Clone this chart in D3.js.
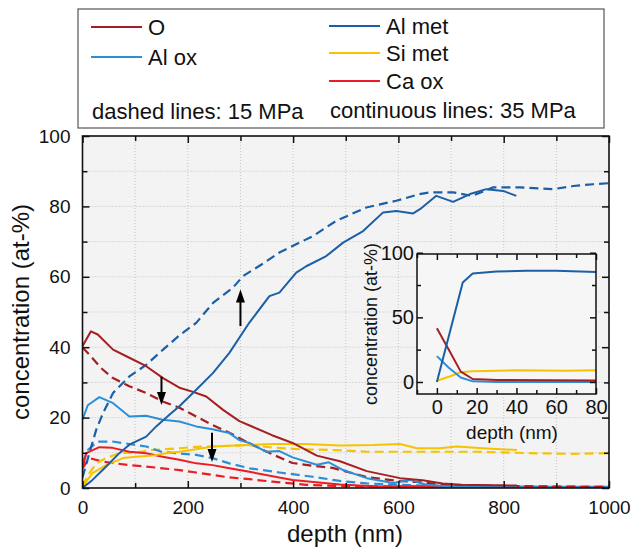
<!DOCTYPE html>
<html>
<head>
<meta charset="utf-8">
<script src="https://cdnjs.cloudflare.com/ajax/libs/d3/7.8.5/d3.min.js"></script>
<style>
  body { margin: 0; background: #fff; }
  svg text { font-family: "Liberation Sans", Arial, sans-serif; fill: #111; }
</style>
</head>
<body>
<svg id="chart" width="633" height="551"></svg>
<script>
// series names and colours
var names = ['O', 'Al ox', 'Al met', 'Si met', 'Ca ox'];
var colors = ['#a51f22', '#2c8fd6', '#1c5fa6', '#f7c300', '#ec1c24'];

// main plot, [depth nm, at-%]; solid = 35 MPa, dashed = 15 MPa
var oSolid = [[0,40.3],[16,44.5],[29,43.6],[58,39.3],[89,37],[121,34.6],[153,31.2],[184,28.5],[210,27.3],[235,26],[267,22.2],[298,19],[323,17.4],[360,15],[399,12.8],[445,9.2],[489,7.6],[540,4.8],[603,2.8],[646,2.2],[684,1.3],[720,0.9],[825,0.7]];
var oDashed = [[0,39.9],[13,37.9],[35,34.1],[57,31.3],[89,28.9],[121,27],[152,24.6],[184,22.8],[216,20.3],[247,17.9],[279,15.7],[317,12.7],[360,9.6],[399,7.1],[437,6.3],[475,5.7],[540,3.1],[600,2.0],[635,1.7],[700,0.8],[800,0.6],[900,0.4],[1000,0.3]];
var alOxSolid = [[0,19.4],[10,23.5],[32,25.8],[57,24.2],[89,20.3],[121,20.5],[152,19.4],[184,18.9],[216,17.5],[247,16.7],[279,15.6],[298,13.6],[317,12.8],[349,10.3],[374,10.5],[399,8.7],[445,6.6],[468,7.3],[495,5.1],[540,2.8],[590,1.4],[622,2.3],[653,0.9],[700,0.4],[825,0.3]];
var alOxDashed = [[0,7],[10,10.8],[29,13.2],[57,13.2],[89,12.5],[121,11.8],[152,10.2],[184,9.8],[216,9.4],[247,8.5],[279,7],[317,5.6],[374,4.4],[437,3.2],[489,2],[540,1.3],[603,0.9],[700,0.5],[800,0.4],[1000,0.3]];
var alMetSolid = [[0,0],[19,2.3],[45,6.1],[70,9.9],[89,12.3],[121,14.6],[140,17.5],[165,20.8],[184,23.2],[216,27.9],[248,32.7],[279,38.4],[317,47],[355,54.5],[374,55.5],[406,61.2],[425,63],[463,65.9],[495,69.7],[533,73],[571,78.3],[596,78.7],[628,78],[641,79.2],[672,83],[704,81.3],[736,83.5],[767,84.9],[799,84.4],[824,83]];
var alMetDashed = [[0,3],[13,9.9],[26,16.5],[39,21.3],[58,27],[89,31.7],[121,35],[153,39.3],[185,43.5],[216,46.9],[248,52.6],[285,56.8],[305,60.2],[340,63.5],[374,66.9],[438,71.6],[482,75.9],[539,79.7],[596,81.6],[640,83.5],[660,84],[704,84],[740,83],[780,85.4],[831,85.4],[894,84.9],[932,85.8],[970,86.3],[1000,86.6]];
var siMetSolid = [[0,0.4],[19,4.2],[45,6.5],[77,8.5],[102,8.9],[133,9.2],[159,9.9],[184,10.3],[216,11],[247,11.8],[279,12],[317,12.2],[361,12.5],[425,12.5],[489,12.1],[552,12.2],[603,12.5],[635,11.3],[679,11.3],[711,11.8],[760,11.3],[825,10.8]];
var siMetDashed = [[0,0.5],[10,3.5],[26,7],[45,8.5],[70,9.9],[102,10.1],[133,10.8],[184,11.3],[216,11.7],[247,11.8],[279,12],[317,12.2],[360,11.5],[413,11],[475,10.8],[540,10.3],[650,10.3],[750,10.3],[850,9.9],[932,9.7],[1000,9.9]];
var caOxSolid = [[0,5.6],[7,9.9],[32,11.6],[57,11.4],[89,10.3],[121,9.9],[152,8.9],[184,8],[216,7],[247,6.5],[279,5.6],[317,4.6],[399,2.3],[489,1],[552,0.5],[825,0.3]];
var caOxDashed = [[0,5.6],[13,8.5],[38,7.5],[57,7.1],[89,6.5],[121,6.1],[152,5.6],[184,5.1],[216,4.4],[247,3.7],[279,3],[317,2.5],[361,1.8],[425,0.9],[500,0.5],[1000,0.3]];

// inset, first 80 nm
var insetO = [[0,41.5],[6,25],[12,8],[18,2.3],[30,1.5],[80,1.2]];
var insetAlOx = [[0,20],[6,11],[12,3.5],[18,0.5],[30,0],[80,0]];
var insetAlMet = [[0,0],[13,77],[18,84],[30,85.5],[45,86],[60,86],[80,85]];
var insetSiMet = [[0,1],[6,4],[12,7.5],[18,8.3],[40,9],[65,8.7],[80,9]];

// arrows: depth, from, to (at-%)
var arrowDepth = [300, 150, 246];
var arrowFrom = [46, 31.6, 15.7];
var arrowTo = [56.4, 23.6, 7.4];

var xMajor = [0, 200, 400, 600, 800, 1000];
var yMajor = [0, 20, 40, 60, 80, 100];
var insetXMajor = [0, 20, 40, 60, 80];
var insetYMajor = [0, 50, 100];

var svg = d3.select('#chart');

var x = d3.scaleLinear().domain([0, 1000]).range([82.5, 609]);
var y = d3.scaleLinear().domain([0, 100]).range([488, 136]);

// plot background
svg.append('defs').append('clipPath').attr('id', 'clip')
    .append('rect').attr('x', x(0)).attr('y', y(100))
    .attr('width', x(1000) - x(0)).attr('height', y(0) - y(100));

svg.append('rect')
    .attr('x', x(0)).attr('y', y(100))
    .attr('width', x(1000) - x(0)).attr('height', y(0) - y(100))
    .attr('fill', '#f3f3f3');

// dotted grid
var grid = svg.append('g').attr('stroke', '#b8b8b8').attr('stroke-width', 0.8).attr('stroke-dasharray', '1,2');
grid.selectAll('.gx').data(d3.range(100, 1000, 100)).enter().append('line')
    .attr('x1', function(d) { return x(d); }).attr('x2', function(d) { return x(d); })
    .attr('y1', y(0)).attr('y2', y(100));
grid.selectAll('.gy').data(d3.range(10, 100, 10)).enter().append('line')
    .attr('y1', function(d) { return y(d); }).attr('y2', function(d) { return y(d); })
    .attr('x1', x(0)).attr('x2', x(1000));

var line = d3.line().x(function(d) { return x(d[0]); }).y(function(d) { return y(d[1]); });

var series = [
    { data: caOxDashed, c: 4, dash: true },
    { data: siMetDashed, c: 3, dash: true },
    { data: alOxDashed, c: 1, dash: true },
    { data: oDashed, c: 0, dash: true },
    { data: alMetDashed, c: 2, dash: true },
    { data: caOxSolid, c: 4, dash: false },
    { data: siMetSolid, c: 3, dash: false },
    { data: alOxSolid, c: 1, dash: false },
    { data: oSolid, c: 0, dash: false },
    { data: alMetSolid, c: 2, dash: false }
];

var plot = svg.append('g').attr('clip-path', 'url(#clip)');
plot.selectAll('path.series').data(series).enter().append('path')
    .attr('class', 'series')
    .attr('d', function(d) { return line(d.data); })
    .attr('fill', 'none')
    .attr('stroke', function(d) { return colors[d.c]; })
    .attr('stroke-width', function(d) { return d.dash ? 2.2 : 2; })
    .attr('stroke-dasharray', function(d) { return d.dash ? '9,5' : null; })
    .attr('stroke-linejoin', 'round');

// arrows
arrowDepth.forEach(function(d, i) {
    var x0 = x(d), y0 = y(arrowFrom[i]), y1 = y(arrowTo[i]);
    var dir = y1 < y0 ? 1 : -1;
    svg.append('line').attr('x1', x0).attr('x2', x0).attr('y1', y0).attr('y2', y1 + dir * 10)
        .attr('stroke', '#000').attr('stroke-width', 2);
    svg.append('path')
        .attr('d', 'M' + x0 + ',' + y1 + 'L' + (x0 - 4.5) + ',' + (y1 + dir * 13) + 'L' + (x0 + 4.5) + ',' + (y1 + dir * 13) + 'Z')
        .attr('fill', '#000');
});

// ticks on all four sides, pointing inward
function ticks(axisFn, scale, vals, size, labels, pos, pad) {
    var a = axisFn(scale).tickValues(vals).tickSizeInner(-size).tickSizeOuter(0).tickPadding(pad || 0);
    if (!labels) a.tickFormat('');
    else a.tickFormat(d3.format('d'));
    var g = svg.append('g').attr('transform', pos).call(a);
    g.select('.domain').remove();
    g.selectAll('line').attr('stroke', '#111').attr('stroke-width', 1.5);
    return g;
}
var xMinor = d3.range(100, 1000, 200);
var yMinor = d3.range(10, 100, 20);
var gb = ticks(d3.axisBottom, x, xMajor, 7, true, 'translate(0,' + y(0) + ')', 13);
ticks(d3.axisBottom, x, xMinor, 5, false, 'translate(0,' + y(0) + ')');
ticks(d3.axisTop, x, xMajor, 7, false, 'translate(0,' + y(100) + ')');
ticks(d3.axisTop, x, xMinor, 5, false, 'translate(0,' + y(100) + ')');
var gl = ticks(d3.axisLeft, y, yMajor, 7, true, 'translate(' + x(0) + ',0)', 12);
ticks(d3.axisLeft, y, yMinor, 5, false, 'translate(' + x(0) + ',0)');
ticks(d3.axisRight, y, yMajor, 7, false, 'translate(' + x(1000) + ',0)');
ticks(d3.axisRight, y, yMinor, 5, false, 'translate(' + x(1000) + ',0)');
gb.selectAll('text').style('font-size', '19px').attr('fill', '#111');
gl.selectAll('text').style('font-size', '19px').attr('fill', '#111');

svg.append('rect')
    .attr('x', x(0)).attr('y', y(100))
    .attr('width', x(1000) - x(0)).attr('height', y(0) - y(100))
    .attr('fill', 'none').attr('stroke', '#111').attr('stroke-width', 1.6);

svg.append('text').attr('x', 345).attr('y', 542).attr('text-anchor', 'middle')
    .style('font-size', '24px').text('depth (nm)');
svg.append('text').attr('transform', 'translate(29,' + ((y(0) + y(100)) / 2) + ') rotate(-90)')
    .attr('text-anchor', 'middle').style('font-size', '24px').text('concentration (at-%)');

// inset
var ix = d3.scaleLinear().domain([-10, 80]).range([417, 596]);
var iy = d3.scaleLinear().domain([-9.3, 99]).range([394, 254]);

svg.append('rect')
    .attr('x', ix(-10)).attr('y', iy(99))
    .attr('width', ix(80) - ix(-10)).attr('height', iy(-9.3) - iy(99))
    .attr('fill', '#f6f6f6');

var iline = d3.line().x(function(d) { return ix(d[0]); }).y(function(d) { return iy(d[1]); });
var insetSeries = [
    { data: insetSiMet, c: 3 },
    { data: insetAlOx, c: 1 },
    { data: insetO, c: 0 },
    { data: insetAlMet, c: 2 }
];
svg.selectAll('path.inset').data(insetSeries).enter().append('path')
    .attr('class', 'inset')
    .attr('d', function(d) { return iline(d.data); })
    .attr('fill', 'none')
    .attr('stroke', function(d) { return colors[d.c]; })
    .attr('stroke-width', 2)
    .attr('stroke-linejoin', 'round');

var ixMinor = d3.range(-10, 80, 20);
var iyMinor = [25, 75];
var ib = ticks(d3.axisBottom, ix, insetXMajor, 6, true, 'translate(0,' + iy(-9.3) + ')', 6);
ticks(d3.axisBottom, ix, ixMinor, 4, false, 'translate(0,' + iy(-9.3) + ')');
ticks(d3.axisTop, ix, insetXMajor, 6, false, 'translate(0,' + iy(99) + ')');
ticks(d3.axisTop, ix, ixMinor, 4, false, 'translate(0,' + iy(99) + ')');
var il = ticks(d3.axisLeft, iy, insetYMajor, 6, true, 'translate(' + ix(-10) + ',0)', 3);
ticks(d3.axisLeft, iy, iyMinor, 4, false, 'translate(' + ix(-10) + ',0)');
ticks(d3.axisRight, iy, insetYMajor, 6, false, 'translate(' + ix(80) + ',0)');
ticks(d3.axisRight, iy, iyMinor, 4, false, 'translate(' + ix(80) + ',0)');
ib.selectAll('text').style('font-size', '20px').attr('fill', '#111');
il.selectAll('text').style('font-size', '20px').attr('fill', '#111');

svg.append('rect')
    .attr('x', ix(-10)).attr('y', iy(99))
    .attr('width', ix(80) - ix(-10)).attr('height', iy(-9.3) - iy(99))
    .attr('fill', 'none').attr('stroke', '#111').attr('stroke-width', 1.5);

svg.append('text').attr('x', 512).attr('y', 439).attr('text-anchor', 'middle')
    .style('font-size', '19px').text('depth (nm)');
svg.append('text').attr('transform', 'translate(377,' + ((iy(-9.3) + iy(99)) / 2) + ') rotate(-90)')
    .attr('text-anchor', 'middle').style('font-size', '18px').text('concentration (at-%)');

// legend
var lg = svg.append('g');
lg.append('rect').attr('x', 78).attr('y', 9).attr('width', 526).attr('height', 119)
    .attr('fill', '#fff').attr('stroke', '#555').attr('stroke-width', 1.2);

var legendPos = [[91, 27], [91, 57], [329, 26], [329, 53], [329, 81]];
names.forEach(function(n, i) {
    var p = legendPos[i];
    lg.append('line').attr('x1', p[0]).attr('x2', p[0] + 51).attr('y1', p[1]).attr('y2', p[1])
        .attr('stroke', colors[i]).attr('stroke-width', 2);
    lg.append('text').attr('x', p[0] + 57).attr('y', p[1] + 8).style('font-size', '22px').text(n);
});
lg.append('text').attr('x', 92).attr('y', 119).style('font-size', '22px').text('dashed lines: 15 MPa');
lg.append('text').attr('x', 330).attr('y', 118).style('font-size', '22px').text('continuous lines: 35 MPa');
</script>
</body>
</html>
